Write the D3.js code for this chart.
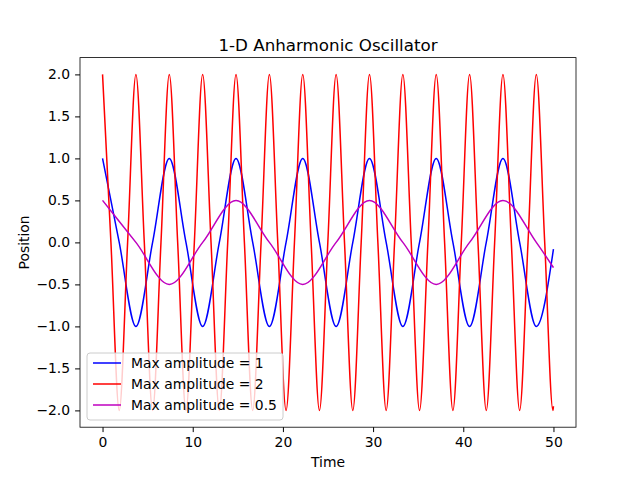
<!DOCTYPE html>
<html><head><meta charset="utf-8">
<script src="https://cdn.jsdelivr.net/npm/d3@7"></script>
<style>body{margin:0;background:#fff}text{font-family:"DejaVu Sans",sans-serif}</style>
</head><body>
<svg id="chart" width="640" height="480"></svg>
<script>
// values: extrema and zero crossings of each curve
const blueT = [0,1.85,3.7,5.55,7.4,9.25,11.1,12.95,14.8,16.65,18.5,20.35,22.2,24.05,25.9,27.75,29.6,31.45,33.3,35.15,37,38.85,40.7,42.55,44.4,46.25,48.1,50]
const blueY = [1,0,-1,0,1,0,-1,0,1,0,-1,0,1,0,-1,0,1,0,-1,0,1,0,-1,0,1,0,-1,-0.08]
const redT = [0,0.93,1.85,2.78,3.7,4.63,5.55,6.48,7.4,8.33,9.25,10.18,11.1,12.03,12.95,13.88,14.8,15.73,16.65,17.58,18.5,19.43,20.35,21.28,22.2,23.13,24.05,24.98,25.9,26.83,27.75,28.68,29.6,30.53,31.45,32.38,33.3,34.23,35.15,36.08,37,37.93,38.85,39.78,40.7,41.63,42.55,43.48,44.4,45.33,46.25,47.18,48.1,49.03,49.95,50]
const redY = [2,0,-2,0,2,0,-2,0,2,0,-2,0,2,0,-2,0,2,0,-2,0,2,0,-2,0,2,0,-2,0,2,0,-2,0,2,0,-2,0,2,0,-2,0,2,0,-2,0,2,0,-2,0,2,0,-2,0,2,0,-2,-1.95]
const magT = [0,3.7,7.4,11.1,14.8,18.5,22.2,25.9,29.6,33.3,37,40.7,44.4,48.1,50]
const magY = [0.5,0,-0.5,0,0.5,0,-0.5,0,0.5,0,-0.5,0,0.5,0,-0.3]
const labels = ["Max amplitude = 1","Max amplitude = 2","Max amplitude = 0.5"]
const colors = ["#0000ff","#ff0000","#bf00bf"]
const xTicks = [0,10,20,30,40,50]
const yTicks = [-2,-1.5,-1,-0.5,0,0.5,1,1.5,2]

const svg = d3.select("#chart")
const L=80,R=576,T=57.6,B=427.2
const x = d3.scaleLinear().domain([-2.5,52.5]).range([L,R])
const y = d3.scaleLinear().domain([-2.2,2.2]).range([B,T])
const series = [[blueT,blueY],[redT,redY],[magT,magY]]

const line = d3.line().x(d=>x(d[0])).y(d=>y(d[1])).curve(d3.curveMonotoneX)
series.forEach((s,i)=>{
  svg.append("path").datum(d3.zip(s[0],s[1])).attr("d",line)
    .attr("fill","none").attr("stroke",colors[i]).attr("stroke-width",1.5)
})

svg.append("g").attr("transform",`translate(0,${B})`)
  .call(d3.axisBottom(x).tickValues(xTicks).tickSize(4.9).tickPadding(5))
svg.append("g").attr("transform",`translate(${L},0)`)
  .call(d3.axisLeft(y).tickValues(yTicks).tickFormat(d3.format(".1f")).tickSize(4.9).tickPadding(5))
svg.selectAll(".tick text").attr("font-size",13.9).attr("fill","#000")
svg.selectAll(".domain").remove()
svg.append("rect").attr("x",L).attr("y",T).attr("width",R-L).attr("height",B-T)
  .attr("fill","none").attr("stroke","#000").attr("stroke-width",0.8)

svg.append("text").attr("x",(L+R)/2).attr("y",T-7).attr("text-anchor","middle")
  .attr("font-size",16.7).text("1-D Anharmonic Oscillator")
svg.append("text").attr("x",(L+R)/2).attr("y",467).attr("text-anchor","middle")
  .attr("font-size",13.9).text("Time")
svg.append("text").attr("transform",`translate(29,${(T+B)/2}) rotate(-90)`)
  .attr("text-anchor","middle").attr("font-size",13.9).text("Position")

const lg = svg.append("g").attr("transform","translate(87,353)")
lg.append("rect").attr("width",196).attr("height",67).attr("rx",3)
  .attr("fill","#fff").attr("fill-opacity",0.8).attr("stroke","#ccc")
labels.forEach((t,i)=>{
  const yy = 10+i*21
  lg.append("line").attr("x1",6).attr("x2",34).attr("y1",yy).attr("y2",yy)
    .attr("stroke",colors[i]).attr("stroke-width",1.5)
  lg.append("text").attr("x",44).attr("y",yy+5).attr("font-size",13.9).text(t)
})
</script>
</body></html>
